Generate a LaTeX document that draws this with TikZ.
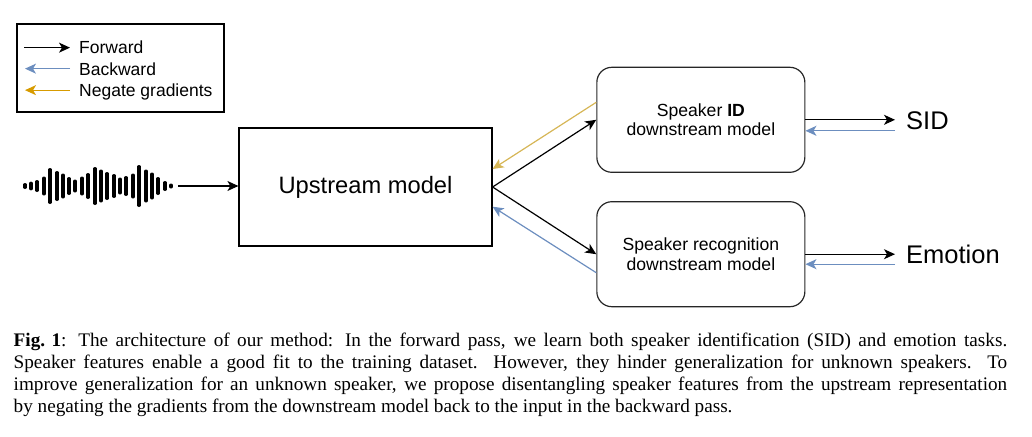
\documentclass[tikz,border=0pt]{standalone}
\usepackage{fontspec}
\setmainfont{Liberation Sans}
\newfontfamily\capfont{Liberation Serif}
\usetikzlibrary{arrows.meta,calc}
\definecolor{bwdblue}{HTML}{6C8EBF}
\definecolor{neggold}{HTML}{D6B656}
\definecolor{negorange}{HTML}{D79B00}
\newcommand{\capstyle}{\capfont\fontsize{19.2}{22}\selectfont}
\begin{document}
\begin{tikzpicture}[x=1pt,y=-1pt,
  tip/.style={-{Stealth[length=11pt,width=10pt,inset=3pt]}},
  fwd/.style={tip, draw=black, line width=1.2pt},
  bwd/.style={tip, draw=bwdblue, line width=1.2pt},
  neg/.style={tip, draw=neggold, line width=1.2pt},
  negl/.style={tip, draw=negorange, line width=1.2pt},
  box/.style={draw, line width=1.2pt, inner sep=0pt},
  dbox/.style={box, draw=black!85, rounded corners=15pt, minimum width=208pt, minimum height=105pt, align=center, font=\fontsize{17.6}{19.5}\selectfont},
  bar/.style={line width=3.2pt, line cap=round},
  leg/.style={anchor=base west, inner sep=0pt, text depth=0pt, font=\fontsize{17.5}{20}\selectfont},
  outlbl/.style={anchor=west, inner sep=0pt, font=\fontsize{25.5}{30}\selectfont},
  capline/.style={anchor=base west, inner sep=0pt, font=\capstyle},
]
\useasboundingbox (0,0) rectangle (1032,436);

% legend
\node[box, minimum width=207pt, minimum height=88pt] (legend) at (120.4,68) {};
\node[leg] (lfwd) at (79,54) {Forward};
\node[leg] (lbwd) at (79,75) {Backward};
\node[leg] (lneg) at (79,96.5) {Negate gradients};
\draw[fwd] ($(lfwd.west)+(-55,0)$) -- ($(lfwd.west)+(-9,0)$);
\draw[bwd] ($(lbwd.west)+(-9,0)$) -- ($(lbwd.west)+(-54,0)$);
\draw[negl] ($(lneg.west)+(-9,0)$) -- ($(lneg.west)+(-54,0)$);

% waveform
\foreach \x/\h in {25/6,31/8.7,37/12,44/19,50/36,57/30,63/25,69/18,75/13,82/19,88/26,95/38,
                   101/33,107/28,114/24,120/17,126/20,133/25,139/42,146/33,152/27,158/18,165/10,171/5}
  \draw[bar] (\x,{186-\h/2+1.6}) -- (\x,{186+\h/2-1.6});
\coordinate (wend) at (178,186);

% boxes
\node[box, minimum width=253pt, minimum height=118pt, font=\fontsize{23.7}{28}\selectfont] (up) at (365.5,187) {Upstream model};
\node[dbox] (sid) at (700.85,119.8) {Speaker \textbf{ID}\\downstream model};
\node[dbox] (rec) at (700.85,254.2) {Speaker recognition\\downstream model};

% outputs
\node[outlbl] (sidlbl) at (906,120.7) {SID};
\node[outlbl] (emolbl) at (906,254) {Emotion};

% connectors
\draw[fwd] (wend) -- (wend -| up.west);
\draw[fwd] (up.east) -- (sid.west);
\draw[fwd] (up.east) -- (rec.west);
\draw[neg] ($(sid.west)+(0,-17.5)$) -- ($(up.east)+(0,-18)$);
\draw[bwd] ($(rec.west)+(0,18.5)$) -- ($(up.east)+(0,19.7)$);

\draw[fwd] (sid.east) -- ($(sid.east -| sidlbl.west)+(-11,0)$);
\draw[bwd] ($(sid.east -| sidlbl.west)+(-11,11)$) -- ($(sid.east)+(0,11)$);
\draw[fwd] (rec.east) -- ($(rec.east -| emolbl.west)+(-11,0)$);
\draw[bwd] ($(rec.east -| emolbl.west)+(-11,10)$) -- ($(rec.east)+(0,10)$);

% caption
\node[capline] (cap1) at (13.5,346) {\makebox[993.5pt][s]{\mbox{\textbf{Fig. 1}}: The architecture of our method: In the forward pass, we learn both speaker identification (SID) and emotion tasks.}};
\node[capline] (cap2) at (13.5,368) {\makebox[993.5pt][s]{Speaker features enable a good fit to the training dataset. However, they hinder generalization for unknown speakers. To}};
\node[capline] (cap3) at (13.5,390) {\makebox[993.5pt][s]{improve generalization for an unknown speaker, we propose disentangling speaker features from the upstream representation}};
\node[capline] (cap4) at (13.5,412) {by negating the gradients from the downstream model back to the input in the backward pass.};
\end{tikzpicture}
\end{document}
